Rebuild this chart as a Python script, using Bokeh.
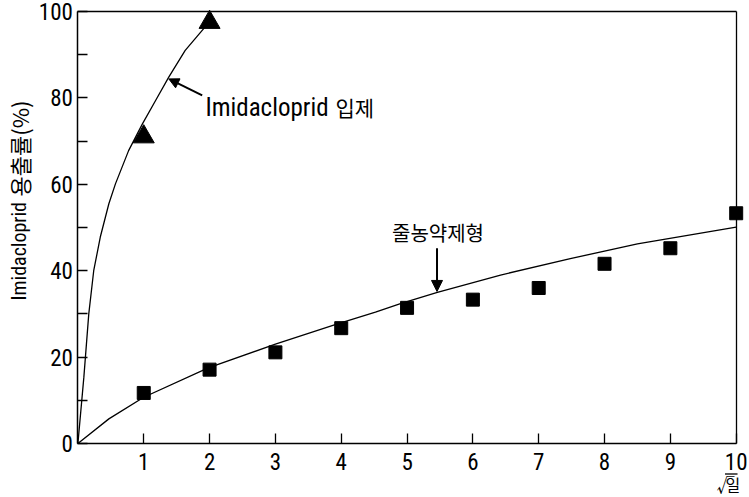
import math

from bokeh.embed import file_html
from bokeh.models import (Arrow, FixedTicker, Label, LinearAxis, NormalHead,
                          Range1d)
from bokeh.plotting import figure
from bokeh.resources import INLINE

# x axis: square root of elapsed days
x_ticks = [1, 2, 3, 4, 5, 6, 7, 8, 9, 10]
y_major = [0, 20, 40, 60, 80, 100]
y_minor = [10, 30, 50, 70, 90]

# measured release (%) — granule formulation
granule_x = [1, 2]
granule_release = [71.0, 97.5]

# measured release (%) — rope formulation
rope_x = [1, 2, 3, 4, 5, 6, 7, 8, 9, 10]
rope_release = [11.7, 17.1, 21.1, 26.7, 31.4, 33.3, 36.0, 41.6, 45.2, 53.3]

# fitted release curves
granule_curve_x = [0, 0.09, 0.165, 0.24, 0.34, 0.47, 0.57, 0.77, 0.98, 1.18, 1.38, 1.63, 1.93, 2.0]
granule_curve_y = [0, 15.3, 30.0, 40.0, 47.8, 55.5, 60.1, 67.8, 74.0, 79.4, 84.8, 91.0, 96.4, 97.5]
rope_curve_x = [0, 0.47, 1.0, 1.98, 3.0, 3.92, 4.52, 4.9, 5.46, 6.42, 7.48, 8.5, 10]
rope_curve_y = [0, 5.7, 10.7, 17.5, 23.0, 27.6, 30.4, 32.4, 35.0, 39.0, 42.8, 46.2, 50.1]

LAT = "Roboto Condensed"
KR = "Noto Sans CJK KR"

# The frame fills the whole canvas; the box, axes and titles are placed
# inside it at fixed data locations so nothing gets clipped.
p = figure(
    width=749, height=497,
    x_range=Range1d(-1.176, 10.202), y_range=Range1d(-12.5, 102.55),
    output_backend="svg", toolbar_location=None,
    min_border_left=0, min_border_right=0,
    min_border_top=0, min_border_bottom=0,
)
p.grid.visible = False
p.outline_line_color = None
p.background_fill_color = "white"
p.border_fill_color = "white"

# top and right sides of the box
top_axis = LinearAxis(fixed_location=100, bounds=(0, 10),
                      ticker=FixedTicker(ticks=[]), axis_line_width=1.3,
                      major_tick_line_color=None, minor_tick_line_color=None)
right_axis = LinearAxis(fixed_location=10, bounds=(0, 100),
                        ticker=FixedTicker(ticks=[]), axis_line_width=1.3,
                        major_tick_line_color=None, minor_tick_line_color=None)
p.add_layout(top_axis, "above")
p.add_layout(right_axis, "right")

xa = p.below[0]
ya = p.left[0]
xa.fixed_location = 0
xa.bounds = (0, 10)
xa.ticker = FixedTicker(ticks=x_ticks)
xa.major_label_standoff = 9
ya.fixed_location = 0
ya.bounds = (0, 100)
ya.ticker = FixedTicker(ticks=y_major, minor_ticks=y_minor)
ya.major_label_standoff = 5

for ax in (xa, ya):
    ax.axis_line_width = 1.5
    ax.axis_line_color = "black"
    ax.major_tick_in = 10
    ax.major_tick_out = 0
    ax.minor_tick_in = 10
    ax.minor_tick_out = 0
    ax.major_tick_line_width = 1.3
    ax.minor_tick_line_width = 1.3
    ax.major_label_text_font = LAT
    ax.major_label_text_font_size = "23px"
    ax.major_label_text_font_style = "normal"
    ax.major_label_text_color = "black"

# curves and measured points
p.line(granule_curve_x, granule_curve_y, line_color="black", line_width=1.3)
p.line(rope_curve_x, rope_curve_y, line_color="black", line_width=1.3)
p.scatter(granule_x, granule_release, marker="triangle", size=21,
          fill_color="black", line_color="black")
p.scatter(rope_x, rope_release, marker="square", size=13,
          fill_color="black", line_color="black")

# callout for the granule curve
p.add_layout(Arrow(end=NormalHead(size=10, fill_color="black", line_color="black"),
                   x_start=1.888, y_start=80.6, x_end=1.381, y_end=84.4,
                   line_width=2, line_color="black"))
p.add_layout(Label(x=1.937, y=77.8, text="Imidacloprid", text_font=LAT,
                   text_font_size="25px", text_align="left",
                   text_baseline="alphabetic", text_color="black"))
p.add_layout(Label(x=3.913, y=78.0, text="입제", text_font=KR,
                   text_font_size="21px", text_align="left",
                   text_baseline="alphabetic", text_color="black"))

# callout for the rope curve
p.add_layout(Arrow(end=NormalHead(size=11, fill_color="black", line_color="black"),
                   x_start=5.455, y_start=45.2, x_end=5.455, y_end=35.2,
                   line_width=2, line_color="black"))
p.add_layout(Label(x=5.47, y=48.9, text="줄농약제형", text_font=KR,
                   text_font_size="20px", text_align="center",
                   text_baseline="alphabetic", text_color="black"))

# y axis title, rotated
p.add_layout(Label(x=-0.90, y=33.1, text="Imidacloprid", text_font=LAT,
                   text_font_size="20px", angle=math.pi / 2, text_align="left",
                   text_baseline="alphabetic", text_color="black"))
p.add_layout(Label(x=-0.90, y=57.2, text="용출률(%)", text_font=KR,
                   text_font_size="22px", angle=math.pi / 2, text_align="left",
                   text_baseline="alphabetic", text_color="black"))

# x axis title: square root of days
p.add_layout(Label(x=9.70, y=-9.4, text="√", text_font=KR,
                   text_font_size="18px", text_align="left",
                   text_baseline="alphabetic", text_color="black"))
p.add_layout(Label(x=9.836, y=-9.3, text="일", text_font=KR,
                   text_font_size="16px", text_align="left",
                   text_baseline="alphabetic", text_color="black"))
p.add_layout(Arrow(end=None, x_start=9.83, y_start=-7.06, x_end=10.02, y_end=-7.06,
                   line_width=1.3, line_color="black"))

open("out.html", "w").write(file_html(p, INLINE))
